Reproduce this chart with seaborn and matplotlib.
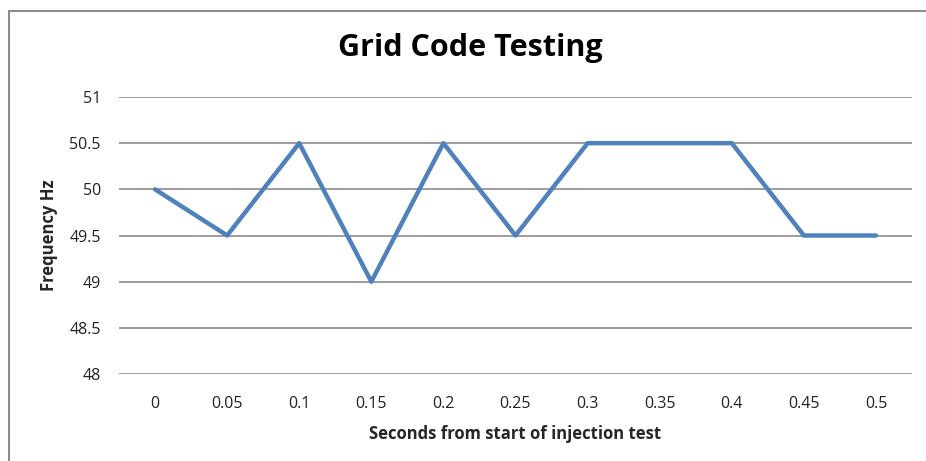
import matplotlib
matplotlib.use("Agg")
import matplotlib.pyplot as plt
import pandas as pd
import seaborn as sns
from matplotlib.lines import Line2D

seconds = ["0", "0.05", "0.1", "0.15", "0.2", "0.25", "0.3", "0.35", "0.4", "0.45", "0.5"]
frequency = [50, 49.5, 50.5, 49, 50.5, 49.5, 50.5, 50.5, 50.5, 49.5, 49.5]
y_ticks = [48, 48.5, 49, 49.5, 50, 50.5, 51]
y_labels = ["48", "48.5", "49", "49.5", "50", "50.5", "51"]

sns.set_style("white")
plt.rcParams["font.family"] = ["Open Sans", "DejaVu Sans"]

df = pd.DataFrame({"seconds": seconds, "freq": frequency})
df["pos"] = range(len(df))

fig = plt.figure(figsize=(9.26, 4.61), dpi=100)
ax = fig.add_axes([119 / 926, 1 - 374 / 461, (912 - 119) / 926, (374 - 97) / 461])

ax = sns.lineplot(data=df, x="pos", y="freq", color="#4F81BD", linewidth=3.2, ax=ax)

ax.set_xlim(-0.5, len(seconds) - 0.5)
ax.set_ylim(48, 51)
ax.set_xticks(df["pos"])
ax.set_xticklabels(seconds, fontsize=11.5, color="#222222")
ax.set_yticks(y_ticks)
ax.set_yticklabels(y_labels, fontsize=11.5, color="#222222")
ax.tick_params(axis="y", length=0, pad=13)
ax.tick_params(axis="x", length=0, pad=16)
ax.grid(axis="y", color="#8c8c8c", linewidth=1.2)
ax.set_axisbelow(True)
for s in ax.spines.values():
    s.set_visible(False)

ax.set_xlabel("Seconds from start of injection test", fontsize=12, fontweight="bold", labelpad=9)
ax.set_ylabel("Frequency Hz", fontsize=12, fontweight="bold", labelpad=8)

fig.text(470 / 926, 1 - 48 / 461, "Grid Code Testing", fontsize=22, fontweight="bold",
         ha="center", va="center", color="#000000")

# chart area border (top and left edges visible)
fig.add_artist(Line2D([9 / 926, 1.0], [1 - 11 / 461, 1 - 11 / 461], transform=fig.transFigure,
                      color="#8c8c8c", linewidth=1.5))
fig.add_artist(Line2D([9 / 926, 9 / 926], [0, 1 - 11 / 461], transform=fig.transFigure,
                      color="#8c8c8c", linewidth=1.5))

fig.savefig("out.png", dpi=100)
